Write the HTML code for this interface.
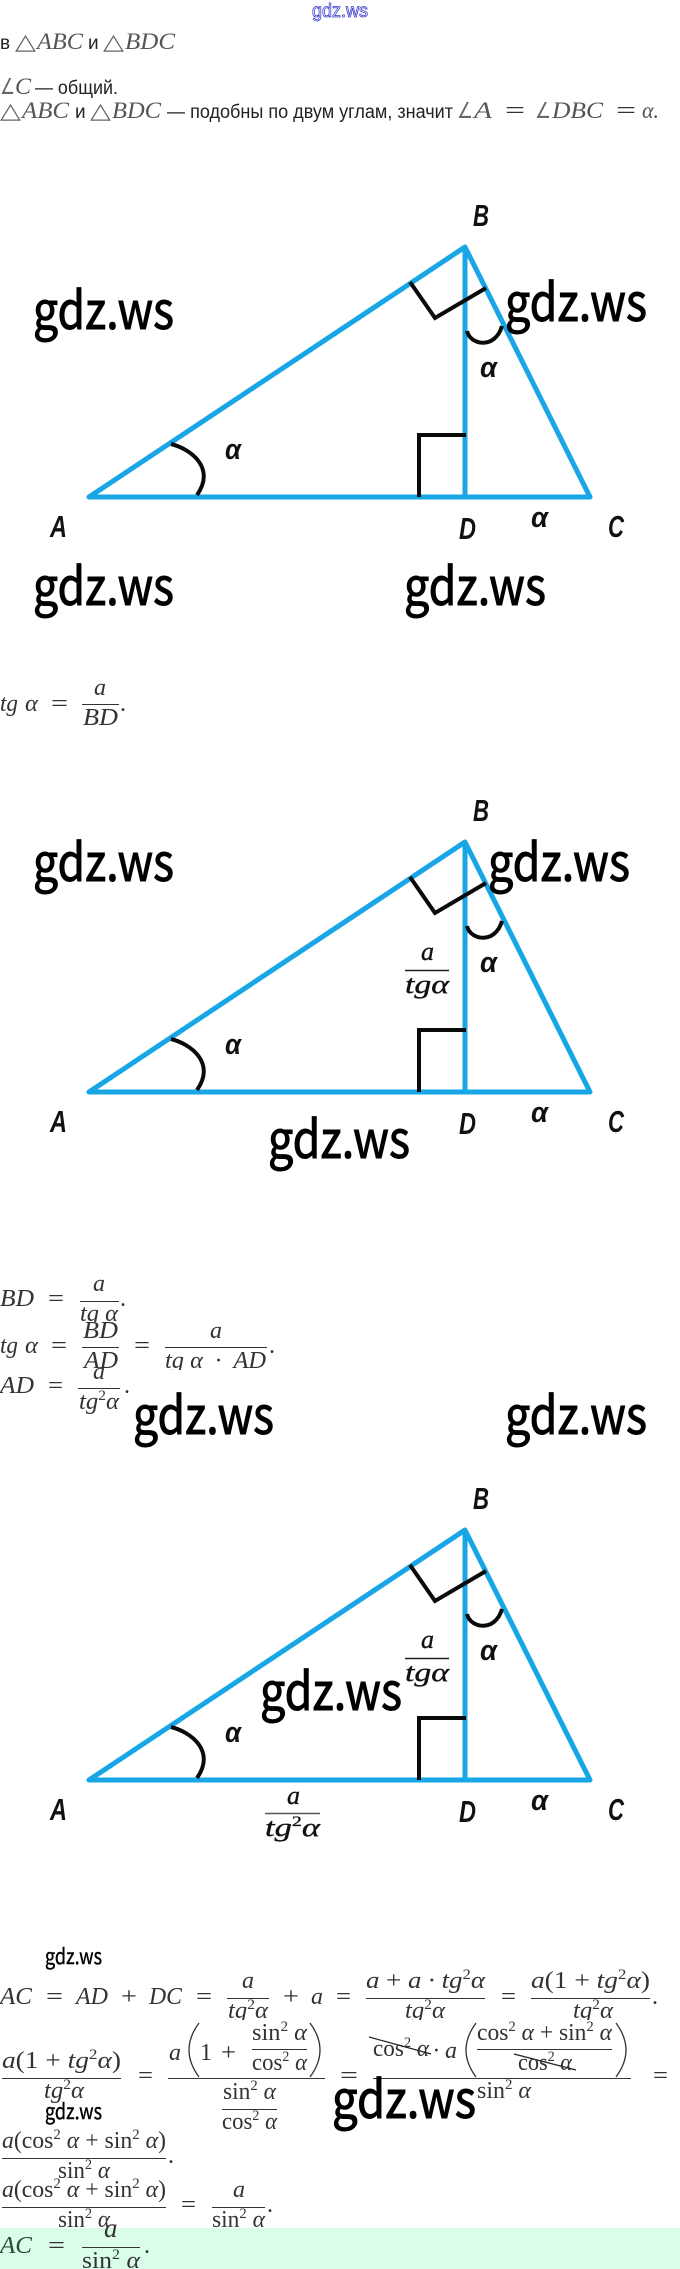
<!DOCTYPE html>
<html><head><meta charset="utf-8"><style>
html,body{margin:0;padding:0;background:#fff;width:680px;height:2269px;overflow:hidden}
svg{display:block}
.m{font:italic 24px "Liberation Serif",serif;fill:#333}
.r{font:24px "Liberation Serif",serif;fill:#333}
.mt{font:italic 23px "Liberation Serif",serif;fill:#555}
.rt{font:22px "DejaVu Sans",sans-serif;fill:#666}
.s{font:19px "Liberation Sans",sans-serif;fill:#222}
.w{font:52px "Noto Sans CJK JP","Liberation Sans",sans-serif;fill:#000;stroke:#000;stroke-width:1}
.w2{font:21px "Noto Sans CJK JP","Liberation Sans",sans-serif;fill:#000;stroke:#000;stroke-width:.4}
.l{font:italic bold 31px "Liberation Sans",sans-serif;fill:#111}
.g{font:italic bold 29px "Liberation Sans",sans-serif;fill:#111}
.b{font:italic 26px "Liberation Serif",serif;fill:#111;stroke:#111;stroke-width:.35}
.f{stroke:#333;stroke-width:1;fill:none}
.i{font-style:italic}.n{font-style:normal}
.p{font-size:15px;font-style:normal}
</style></head><body>
<svg xmlns="http://www.w3.org/2000/svg" width="680" height="2269" viewBox="0 0 680 2269">
<rect width="680" height="2269" fill="#fff"/>
<defs><g id="tri">
<path d="M89 497H590L465 247L89 497M465 247V497" fill="none" stroke="#19a6e6" stroke-width="5" stroke-linejoin="round" stroke-linecap="round"/>
<path d="M410 282L435 318L486 288M419 497V435H466M171 444C191 449 216 468 197 495M467 331C470 345 495 350 502 326" fill="none" stroke="#0a0a0a" stroke-width="4"/>
</g></defs>

<text x="312" y="17" textLength="56" lengthAdjust="spacingAndGlyphs" style="font:19px 'Liberation Sans',sans-serif;fill:#fff;stroke:#3a3ad0;stroke-width:.8">gdz.ws</text>

<text class="s" x="0" y="49">в</text>
<text class="rt" x="15" y="49" textLength="21" lengthAdjust="spacingAndGlyphs">△</text>
<text class="mt" x="37" y="49" textLength="46" lengthAdjust="spacingAndGlyphs">ABC</text>
<text class="s" x="88" y="49">и</text>
<text class="rt" x="103" y="49" textLength="21" lengthAdjust="spacingAndGlyphs">△</text>
<text class="mt" x="125" y="49" textLength="50" lengthAdjust="spacingAndGlyphs">BDC</text>

<text class="rt" x="0" y="94" textLength="15" lengthAdjust="spacingAndGlyphs">∠</text>
<text class="mt" x="15" y="94" textLength="16" lengthAdjust="spacingAndGlyphs">C</text>
<text class="s" x="35" y="94" textLength="83" lengthAdjust="spacingAndGlyphs">— общий.</text>

<text class="rt" x="0" y="118" textLength="21" lengthAdjust="spacingAndGlyphs">△</text>
<text class="mt" x="22" y="118" textLength="47" lengthAdjust="spacingAndGlyphs">ABC</text>
<text class="s" x="75" y="118">и</text>
<text class="rt" x="90" y="118" textLength="21" lengthAdjust="spacingAndGlyphs">△</text>
<text class="mt" x="112" y="118" textLength="49" lengthAdjust="spacingAndGlyphs">BDC</text>
<text class="s" x="167" y="118" textLength="286" lengthAdjust="spacingAndGlyphs">— подобны по двум углам, значит</text>
<text class="rt" x="457" y="118" textLength="16" lengthAdjust="spacingAndGlyphs">∠</text>
<text class="mt" x="474" y="118" textLength="18" lengthAdjust="spacingAndGlyphs">A</text>
<text class="r" x="505" y="118" textLength="20" lengthAdjust="spacingAndGlyphs">=</text>
<text class="rt" x="535" y="118" textLength="16" lengthAdjust="spacingAndGlyphs">∠</text>
<text class="mt" x="552" y="118" textLength="51" lengthAdjust="spacingAndGlyphs">DBC</text>
<text class="r" x="616" y="118" textLength="20" lengthAdjust="spacingAndGlyphs">=</text>
<text class="mt" x="642" y="118" textLength="17" lengthAdjust="spacingAndGlyphs">α.</text>

<!-- triangle 1 -->
<use href="#tri"/>
<text class="l" x="50" y="537" textLength="17" lengthAdjust="spacingAndGlyphs">A</text>
<text class="l" x="473" y="226" textLength="16" lengthAdjust="spacingAndGlyphs">B</text>
<text class="l" x="459" y="539" textLength="17" lengthAdjust="spacingAndGlyphs">D</text>
<text class="l" x="608" y="537" textLength="16" lengthAdjust="spacingAndGlyphs">C</text>
<text class="g" x="225" y="459" textLength="16" lengthAdjust="spacingAndGlyphs">α</text>
<text class="g" x="480" y="377" textLength="17" lengthAdjust="spacingAndGlyphs">α</text>
<text class="g" x="531" y="527" textLength="17" lengthAdjust="spacingAndGlyphs">α</text>
<text class="w" x="33" y="329" textLength="141" lengthAdjust="spacingAndGlyphs">gdz.ws</text>
<text class="w" x="505" y="321" textLength="142" lengthAdjust="spacingAndGlyphs">gdz.ws</text>
<text class="w" x="33" y="605" textLength="141" lengthAdjust="spacingAndGlyphs">gdz.ws</text>
<text class="w" x="404" y="605" textLength="142" lengthAdjust="spacingAndGlyphs">gdz.ws</text>

<!-- tg a = a/BD -->
<text class="m" x="0" y="711" textLength="18" lengthAdjust="spacingAndGlyphs">tg</text>
<text class="m" x="25" y="711" textLength="13" lengthAdjust="spacingAndGlyphs">α</text>
<text class="r" x="51" y="711" textLength="17" lengthAdjust="spacingAndGlyphs">=</text>
<path class="f" d="M82 704.5H119"/>
<text class="m" x="94" y="695">a</text>
<text class="m" x="83" y="725" textLength="35" lengthAdjust="spacingAndGlyphs">BD</text>
<text class="r" x="120" y="711">.</text>

<!-- triangle 2 -->
<use href="#tri" y="595"/>
<text class="l" x="50" y="1132" textLength="17" lengthAdjust="spacingAndGlyphs">A</text>
<text class="l" x="473" y="821" textLength="16" lengthAdjust="spacingAndGlyphs">B</text>
<text class="l" x="459" y="1134" textLength="17" lengthAdjust="spacingAndGlyphs">D</text>
<text class="l" x="608" y="1132" textLength="16" lengthAdjust="spacingAndGlyphs">C</text>
<text class="g" x="225" y="1054" textLength="16" lengthAdjust="spacingAndGlyphs">α</text>
<text class="g" x="480" y="972" textLength="17" lengthAdjust="spacingAndGlyphs">α</text>
<text class="g" x="531" y="1122" textLength="17" lengthAdjust="spacingAndGlyphs">α</text>
<path d="M405 970.5H449" stroke="#222" stroke-width="1.4"/>
<text class="b" x="421" y="960">a</text>
<text class="b" x="405" y="993" textLength="44" lengthAdjust="spacingAndGlyphs">tgα</text>
<text class="w" x="33" y="881" textLength="141" lengthAdjust="spacingAndGlyphs">gdz.ws</text>
<text class="w" x="488" y="881" textLength="142" lengthAdjust="spacingAndGlyphs">gdz.ws</text>
<text class="w" x="268" y="1158" textLength="142" lengthAdjust="spacingAndGlyphs">gdz.ws</text>

<!-- BD equations -->
<text class="m" x="0" y="1306" textLength="34" lengthAdjust="spacingAndGlyphs">BD</text>
<text class="r" x="48" y="1306" textLength="16" lengthAdjust="spacingAndGlyphs">=</text>
<path class="f" d="M80 1301.5H119"/>
<text class="m" x="93" y="1291">a</text>
<text class="m" x="80" y="1321" textLength="38" lengthAdjust="spacingAndGlyphs">tg α</text>
<text class="r" x="120" y="1306">.</text>
<rect x="0" y="1322" width="300" height="70" fill="#fff"/>
<text class="m" x="0" y="1353" textLength="18" lengthAdjust="spacingAndGlyphs">tg</text>
<text class="m" x="25" y="1353" textLength="13" lengthAdjust="spacingAndGlyphs">α</text>
<text class="r" x="51" y="1353" textLength="16" lengthAdjust="spacingAndGlyphs">=</text>
<path class="f" d="M82 1347.5H119"/>
<text class="m" x="83" y="1338" textLength="35" lengthAdjust="spacingAndGlyphs">BD</text>
<text class="m" x="84" y="1368" textLength="34" lengthAdjust="spacingAndGlyphs">AD</text>
<text class="r" x="134" y="1353" textLength="16" lengthAdjust="spacingAndGlyphs">=</text>
<path class="f" d="M165 1347.5H267"/>
<text class="m" x="210" y="1338">a</text>
<text class="m" x="165" y="1368" textLength="101" lengthAdjust="spacingAndGlyphs" xml:space="preserve">tg α  ·  AD</text>
<text class="r" x="269" y="1353">.</text>
<rect x="0" y="1370" width="300" height="4" fill="#fff"/>
<text class="m" x="0" y="1393" textLength="34" lengthAdjust="spacingAndGlyphs">AD</text>
<text class="r" x="48" y="1393" textLength="15" lengthAdjust="spacingAndGlyphs">=</text>
<path class="f" d="M78 1388.5H120"/>
<text class="m" x="93" y="1379">a</text>
<text class="m" x="79" y="1409" textLength="40" lengthAdjust="spacingAndGlyphs">tg<tspan class="p" dy="-9">2</tspan><tspan dy="9">α</tspan></text>
<text class="r" x="124" y="1393">.</text>
<text class="w" x="133" y="1434" textLength="141" lengthAdjust="spacingAndGlyphs">gdz.ws</text>
<text class="w" x="505" y="1434" textLength="142" lengthAdjust="spacingAndGlyphs">gdz.ws</text>

<!-- triangle 3 -->
<use href="#tri" y="1283"/>
<text class="l" x="50" y="1820" textLength="17" lengthAdjust="spacingAndGlyphs">A</text>
<text class="l" x="473" y="1509" textLength="16" lengthAdjust="spacingAndGlyphs">B</text>
<text class="l" x="459" y="1822" textLength="17" lengthAdjust="spacingAndGlyphs">D</text>
<text class="l" x="608" y="1820" textLength="16" lengthAdjust="spacingAndGlyphs">C</text>
<text class="g" x="225" y="1742" textLength="16" lengthAdjust="spacingAndGlyphs">α</text>
<text class="g" x="480" y="1660" textLength="17" lengthAdjust="spacingAndGlyphs">α</text>
<text class="g" x="531" y="1810" textLength="17" lengthAdjust="spacingAndGlyphs">α</text>
<path d="M405 1658.5H449" stroke="#222" stroke-width="1.4"/>
<text class="b" x="421" y="1648">a</text>
<text class="b" x="405" y="1681" textLength="44" lengthAdjust="spacingAndGlyphs">tgα</text>
<path d="M265 1813.5H320" stroke="#555" stroke-width="1.4"/>
<text class="b" x="287" y="1804">a</text>
<text class="b" x="265" y="1836" textLength="55" lengthAdjust="spacingAndGlyphs">tg<tspan class="p" dy="-10">2</tspan><tspan dy="10">α</tspan></text>
<text class="w" x="260" y="1710" textLength="142" lengthAdjust="spacingAndGlyphs">gdz.ws</text>

<!-- AC = ... -->
<text class="w2" x="45" y="1964" textLength="57" lengthAdjust="spacingAndGlyphs">gdz.ws</text>
<text class="m" x="0" y="2004" textLength="32" lengthAdjust="spacingAndGlyphs">AC</text>
<text class="r" x="46" y="2004" textLength="17" lengthAdjust="spacingAndGlyphs">=</text>
<text class="m" x="76" y="2004" textLength="32" lengthAdjust="spacingAndGlyphs">AD</text>
<text class="r" x="121" y="2004" textLength="16" lengthAdjust="spacingAndGlyphs">+</text>
<text class="m" x="149" y="2004" textLength="33" lengthAdjust="spacingAndGlyphs">DC</text>
<text class="r" x="196" y="2004" textLength="16" lengthAdjust="spacingAndGlyphs">=</text>
<path class="f" d="M227 1998.5H269"/>
<text class="m" x="242" y="1988">a</text>
<text class="m" x="228" y="2018" textLength="40" lengthAdjust="spacingAndGlyphs">tg<tspan class="p" dy="-9">2</tspan><tspan dy="9">α</tspan></text>
<text class="r" x="283" y="2004" textLength="16" lengthAdjust="spacingAndGlyphs">+</text>
<text class="m" x="311" y="2004">a</text>
<text class="r" x="336" y="2004" textLength="15" lengthAdjust="spacingAndGlyphs">=</text>
<path class="f" d="M366 1998.5H485"/>
<text class="m" x="366" y="1988" textLength="119" lengthAdjust="spacingAndGlyphs" xml:space="preserve">a <tspan class="n">+</tspan> a · tg<tspan class="p" dy="-9">2</tspan><tspan dy="9">α</tspan></text>
<text class="m" x="405" y="2018" textLength="40" lengthAdjust="spacingAndGlyphs">tg<tspan class="p" dy="-9">2</tspan><tspan dy="9">α</tspan></text>
<text class="r" x="501" y="2004" textLength="15" lengthAdjust="spacingAndGlyphs">=</text>
<path class="f" d="M531 1998.5H650"/>
<text class="m" x="531" y="1988" textLength="119" lengthAdjust="spacingAndGlyphs" xml:space="preserve">a<tspan class="n">(1 + </tspan>tg<tspan class="p" dy="-9">2</tspan><tspan dy="9">α</tspan><tspan class="n">)</tspan></text>
<text class="m" x="573" y="2018" textLength="40" lengthAdjust="spacingAndGlyphs">tg<tspan class="p" dy="-9">2</tspan><tspan dy="9">α</tspan></text>
<text class="r" x="652" y="2004">.</text>
<rect x="0" y="2020" width="680" height="100" fill="#fff"/>

<!-- second equation line -->
<path class="f" d="M2 2078.5H121"/>
<text class="m" x="2" y="2068" textLength="119" lengthAdjust="spacingAndGlyphs" xml:space="preserve">a<tspan class="n">(1 + </tspan>tg<tspan class="p" dy="-9">2</tspan><tspan dy="9">α</tspan><tspan class="n">)</tspan></text>
<text class="m" x="44" y="2098" textLength="40" lengthAdjust="spacingAndGlyphs">tg<tspan class="p" dy="-9">2</tspan><tspan dy="9">α</tspan></text>
<text class="r" x="138" y="2083" textLength="15" lengthAdjust="spacingAndGlyphs">=</text>
<path class="f" d="M168 2078.5H325"/>
<text class="m" x="169" y="2060">a</text>
<path d="M199 2023Q179 2050 199 2077M310 2023Q330 2050 310 2077" fill="none" stroke="#333" stroke-width="1.3"/>
<text class="r" x="200" y="2060">1</text>
<text class="r" x="221" y="2060" textLength="15" lengthAdjust="spacingAndGlyphs">+</text>
<path class="f" d="M252 2049.5H307"/>
<text class="r" x="252" y="2040" textLength="55" lengthAdjust="spacingAndGlyphs" xml:space="preserve">sin<tspan class="p" dy="-9">2</tspan><tspan dy="9"> </tspan><tspan class="i">α</tspan></text>
<text class="r" x="252" y="2070" textLength="55" lengthAdjust="spacingAndGlyphs" xml:space="preserve">cos<tspan class="p" dy="-9">2</tspan><tspan dy="9"> </tspan><tspan class="i">α</tspan></text>
<text class="r" x="223" y="2099" textLength="53" lengthAdjust="spacingAndGlyphs" xml:space="preserve">sin<tspan class="p" dy="-9">2</tspan><tspan dy="9"> </tspan><tspan class="i">α</tspan></text>
<path class="f" d="M222 2109.5H277"/>
<text class="r" x="222" y="2129" textLength="55" lengthAdjust="spacingAndGlyphs" xml:space="preserve">cos<tspan class="p" dy="-9">2</tspan><tspan dy="9"> </tspan><tspan class="i">α</tspan></text>
<text class="r" x="340" y="2083" textLength="18" lengthAdjust="spacingAndGlyphs">=</text>
<path class="f" d="M373 2078.5H631"/>
<text class="r" x="373" y="2056" textLength="56" lengthAdjust="spacingAndGlyphs" xml:space="preserve">cos<tspan class="p" dy="-9">2</tspan><tspan dy="9"> </tspan><tspan class="i">α</tspan></text>
<path d="M369 2037L431 2054M514 2054L576 2070" stroke="#222" stroke-width="1.2"/>
<text class="m" x="433" y="2058" xml:space="preserve">· a</text>
<path d="M476 2023Q456 2050 476 2077M616 2023Q636 2050 616 2077" fill="none" stroke="#333" stroke-width="1.3"/>
<path class="f" d="M477 2049.5H612"/>
<text class="r" x="477" y="2040" textLength="135" lengthAdjust="spacingAndGlyphs" xml:space="preserve">cos<tspan class="p" dy="-9">2</tspan><tspan dy="9"> </tspan><tspan class="i">α</tspan> + sin<tspan class="p" dy="-9">2</tspan><tspan dy="9"> </tspan><tspan class="i">α</tspan></text>
<text class="r" x="518" y="2070" textLength="54" lengthAdjust="spacingAndGlyphs" xml:space="preserve">cos<tspan class="p" dy="-9">2</tspan><tspan dy="9"> </tspan><tspan class="i">α</tspan></text>
<text class="r" x="477" y="2098" textLength="54" lengthAdjust="spacingAndGlyphs" xml:space="preserve">sin<tspan class="p" dy="-9">2</tspan><tspan dy="9"> </tspan><tspan class="i">α</tspan></text>
<text class="r" x="653" y="2083" textLength="15" lengthAdjust="spacingAndGlyphs">=</text>
<text class="w" x="332" y="2118" textLength="144" lengthAdjust="spacingAndGlyphs">gdz.ws</text>
<text class="w2" x="45" y="2119" textLength="57" lengthAdjust="spacingAndGlyphs">gdz.ws</text>

<!-- third -->
<text class="r" x="2" y="2148" textLength="164" lengthAdjust="spacingAndGlyphs" xml:space="preserve"><tspan class="i">a</tspan>(cos<tspan class="p" dy="-9">2</tspan><tspan dy="9"> </tspan><tspan class="i">α</tspan> + sin<tspan class="p" dy="-9">2</tspan><tspan dy="9"> </tspan><tspan class="i">α</tspan>)</text>
<path class="f" d="M2 2158.5H166"/>
<text class="r" x="58" y="2178" textLength="52" lengthAdjust="spacingAndGlyphs" xml:space="preserve">sin<tspan class="p" dy="-9">2</tspan><tspan dy="9"> </tspan><tspan class="i">α</tspan></text>
<text class="r" x="168" y="2163">.</text>
<rect x="0" y="2180" width="300" height="5" fill="#fff"/>
<text class="r" x="2" y="2197" textLength="164" lengthAdjust="spacingAndGlyphs" xml:space="preserve"><tspan class="i">a</tspan>(cos<tspan class="p" dy="-9">2</tspan><tspan dy="9"> </tspan><tspan class="i">α</tspan> + sin<tspan class="p" dy="-9">2</tspan><tspan dy="9"> </tspan><tspan class="i">α</tspan>)</text>
<path class="f" d="M2 2207.5H166"/>
<text class="r" x="58" y="2227" textLength="52" lengthAdjust="spacingAndGlyphs" xml:space="preserve">sin<tspan class="p" dy="-9">2</tspan><tspan dy="9"> </tspan><tspan class="i">α</tspan></text>
<text class="r" x="181" y="2212" textLength="15" lengthAdjust="spacingAndGlyphs">=</text>
<path class="f" d="M212 2207.5H265"/>
<text class="m" x="233" y="2197">a</text>
<text class="r" x="212" y="2227" textLength="53" lengthAdjust="spacingAndGlyphs" xml:space="preserve">sin<tspan class="p" dy="-9">2</tspan><tspan dy="9"> </tspan><tspan class="i">α</tspan></text>
<text class="r" x="267" y="2212">.</text>

<!-- answer -->
<rect x="0" y="2228" width="680" height="41" fill="#d9fde9"/>
<text class="m" x="0" y="2253" textLength="32" lengthAdjust="spacingAndGlyphs" style="fill:#2a4a3a">AC</text>
<text class="r" x="48" y="2253" textLength="17" lengthAdjust="spacingAndGlyphs">=</text>
<path class="f" d="M82 2247.5H140"/>
<text class="m" x="104" y="2237" style="font-size:27px">a</text>
<text class="r" x="82" y="2268" textLength="58" lengthAdjust="spacingAndGlyphs" xml:space="preserve">sin<tspan class="p" dy="-9">2</tspan><tspan dy="9"> </tspan><tspan class="i">α</tspan></text>
<text class="r" x="144" y="2253">.</text>
</svg>
</body></html>
